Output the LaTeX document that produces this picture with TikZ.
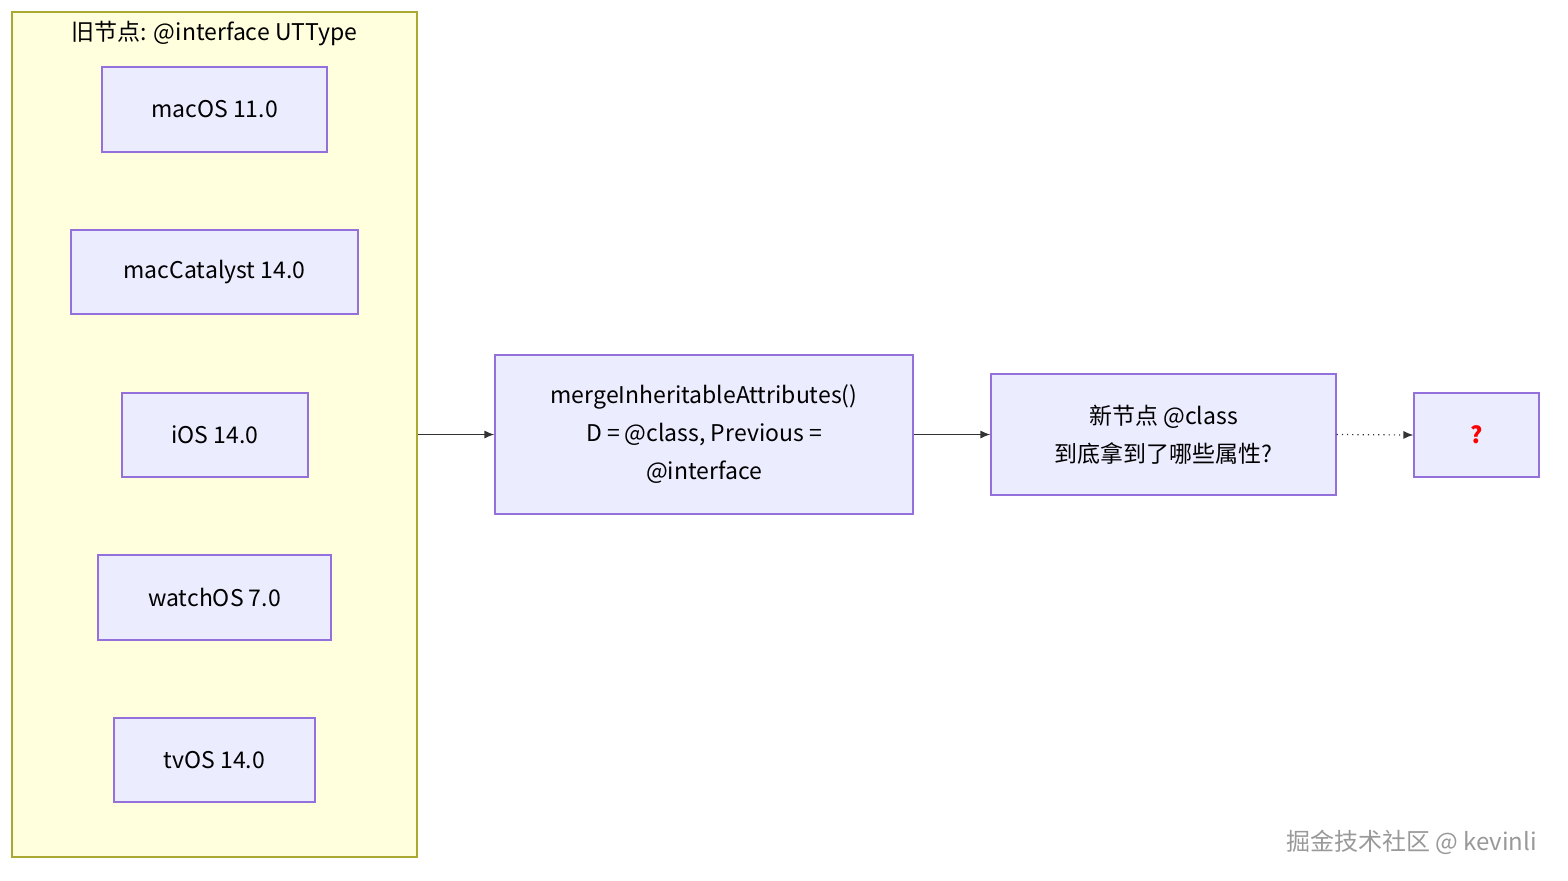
\documentclass[tikz,border=0pt]{standalone}
\usepackage{fontspec}
\setmainfont{Noto Sans CJK SC}
\usetikzlibrary{arrows.meta}
\begin{document}
\begin{tikzpicture}[x=0.5pt,y=-0.5pt,
    box/.style={draw=boxline, fill=boxfill, line width=0.6pt, align=center, font=\fontsize{11.5}{19}\selectfont, inner sep=0pt},
    link/.style={-{Latex[length=5pt,width=4pt]}, line width=0.6pt, draw=linkcol}]
    % Define colors
    \definecolor{boxfill}{HTML}{ECECFF}
    \definecolor{boxline}{HTML}{9370DB}
    \definecolor{groupfill}{HTML}{FFFFDE}
    \definecolor{groupline}{HTML}{AAAA33}
    \definecolor{linkcol}{HTML}{333333}
    \useasboundingbox (0,0) rectangle (1568,880);

    % Old node group
    \node[draw=groupline, fill=groupfill, line width=0.6pt, minimum width=202.5pt, minimum height=422.5pt, inner sep=0pt] (old) at (214.5,434.5) {};
    \node[font=\fontsize{11.5}{14}\selectfont, anchor=north] (oldlabel) at (214.5,14) {旧节点: @interface UTType};

    \node[box, minimum width=112.5pt, minimum height=42.5pt] (mac) at (214.5,109.5) {macOS 11.0};
    \node[box, minimum width=143.5pt, minimum height=42pt] (catalyst) at (214.5,272) {macCatalyst 14.0};
    \node[box, minimum width=93pt, minimum height=42pt] (ios) at (215,435) {iOS 14.0};
    \node[box, minimum width=116.5pt, minimum height=42.5pt] (watch) at (214.5,597.5) {watchOS 7.0};
    \node[box, minimum width=100.5pt, minimum height=42pt] (tv) at (214.5,760) {tvOS 14.0};

    % Flow
    \node[box, minimum width=209pt, minimum height=79.5pt] (merge) at (704,434.5) {mergeInheritableAttributes()\\D = @class, Previous =\\@interface};
    \node[box, minimum width=172.5pt, minimum height=60.5pt] (new) at (1163.5,434.5) {新节点 @class\\到底拿到了哪些属性?};
    \node[box, minimum width=62.5pt, minimum height=42pt, text=red, font=\fontsize{11.5}{14}\bfseries] (result) at (1476.5,435) {?};

    \draw[link] (old.east) -- (merge.west);
    \draw[link] (merge.east) -- (new.west);
    \draw[link, dotted] (new.east) -- (result.west);

    % Watermark
    \node[text=gray!80, font=\fontsize{12}{14}\selectfont, anchor=east] (mark) at (1544,842) {掘金技术社区 @ kevinli};
\end{tikzpicture}
\end{document}
